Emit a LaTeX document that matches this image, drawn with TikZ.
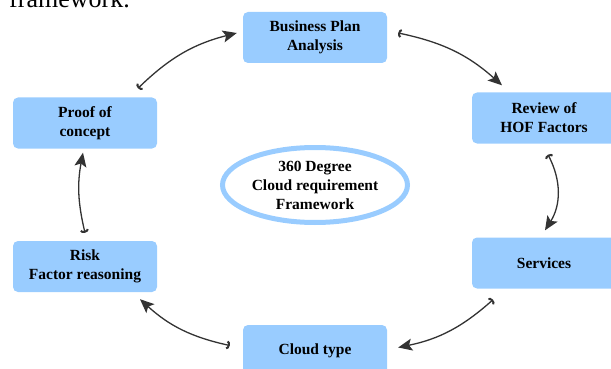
\documentclass[tikz,border=0pt]{standalone}
\usepackage{fontspec}
\setmainfont{Liberation Serif}
\usetikzlibrary{arrows.meta,shapes.geometric}
\definecolor{boxblue}{HTML}{99CCFF}
\definecolor{arrowgray}{HTML}{333333}
\tikzset{
  stepbox/.style={draw=none, fill=boxblue, rounded corners=5pt, minimum width=144pt, minimum height=51pt,
    inner sep=0pt, align=center, font=\fontsize{15.5}{19}\selectfont\bfseries},
  flow/.style={draw=arrowgray, line width=1.3pt,
    {Arc Barb[width=9pt,length=3pt,line width=2pt]}-{Stealth[length=14pt,width=12pt,inset=3pt]}},
}
\begin{document}
\begin{tikzpicture}[x=1pt,y=-1pt]
\useasboundingbox (0,0) rectangle (611,369);
\clip (0,0) rectangle (611,369);
\node[anchor=base west, inner sep=0pt, font=\fontsize{26}{30}\selectfont] (fw) at (9,8) {framework.};
\node[stepbox] (bp) at (315,37.5) {Business Plan\\Analysis};
\node[stepbox] (rv) at (544,118) {Review of\\HOF Factors};
\node[stepbox] (sv) at (544,263) {Services};
\node[stepbox] (ct) at (315,350.5) {Cloud type};
\node[stepbox] (rf) at (85,266.5) {Risk\\Factor reasoning};
\node[stepbox] (pc) at (85,123) {Proof of\\concept};
\node[ellipse, draw=boxblue, line width=5pt, minimum width=185pt, minimum height=75pt, inner sep=0pt,
  align=center, font=\fontsize{15.5}{19}\selectfont\bfseries] (fr) at (315,185) {360 Degree\\Cloud requirement\\Framework};
\draw[flow] ([shift={(53,-9)}]pc.north) to[bend left=15] ([shift={(-6,-4.5)}]bp.west);
\draw[flow] ([shift={(11,-4.5)}]bp.east) to[bend left=15] ([shift={(-42,-7)}]rv.north);
\draw[flow] ([shift={(4,11)}]rv.south) to[bend left=30] ([shift={(1,-7)}]sv.north);
\draw[flow] ([shift={(-51,11)}]sv.south) to[bend left=15] ([shift={(11,-3)}]ct.east);
\draw[flow] ([shift={(-13,-5)}]ct.west) to[bend left=15] ([shift={(55,7)}]rf.south);
\draw[flow] ([shift={(0,-8)}]rf.north) to[bend left=12] ([shift={(-2,4)}]pc.south);
\end{tikzpicture}
\end{document}
